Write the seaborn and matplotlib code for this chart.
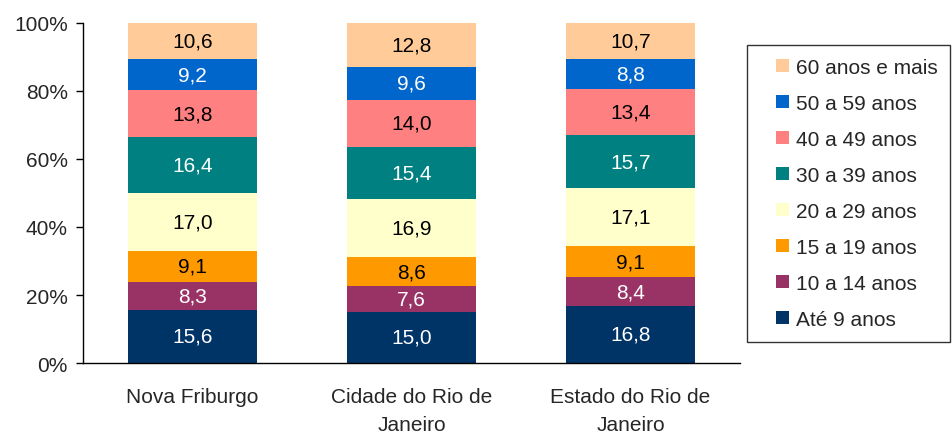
import matplotlib
matplotlib.use("Agg")
import matplotlib.pyplot as plt
import seaborn as sns
import pandas as pd
import numpy as np
from matplotlib.patches import Patch, Rectangle
from matplotlib.legend_handler import HandlerBase

categories = ["Nova Friburgo", "Cidade do Rio de\nJaneiro", "Estado do Rio de\nJaneiro"]
groups = ["Até 9 anos", "10 a 14 anos", "15 a 19 anos", "20 a 29 anos",
          "30 a 39 anos", "40 a 49 anos", "50 a 59 anos", "60 anos e mais"]
ate9 = [15.6, 15.0, 16.8]
a10_14 = [8.3, 7.6, 8.4]
a15_19 = [9.1, 8.6, 9.1]
a20_29 = [17.0, 16.9, 17.1]
a30_39 = [16.4, 15.4, 15.7]
a40_49 = [13.8, 14.0, 13.4]
a50_59 = [9.2, 9.6, 8.8]
a60 = [10.6, 12.8, 10.7]
series = [ate9, a10_14, a15_19, a20_29, a30_39, a40_49, a50_59, a60]

colors = ["#003366", "#993366", "#FF9900", "#FFFFCC", "#008080", "#FF8080", "#0066CC", "#FFCC99"]
text_colors = ["white", "white", "black", "black", "white", "black", "white", "black"]

sns.set_style("white")
plt.rcParams["font.family"] = ["Liberation Sans", "DejaVu Sans"]
FS = 15

fig = plt.figure(figsize=(9.52, 4.35), dpi=100)
ax = fig.add_axes([83/952, 1-364/435, (740-83)/952, (364-24)/435])

bottom = np.zeros(len(categories))
for g, vals, c, tc in zip(groups, series, colors, text_colors):
    df = pd.DataFrame({"cat": categories, "val": vals})
    sns.barplot(data=df, x="cat", y="val", color=c, bottom=bottom, width=0.59,
                ax=ax, saturation=1, linewidth=0, order=categories)
    for i, v in enumerate(vals):
        ax.text(i, bottom[i] + v/2, f"{v:.1f}".replace(".", ","), ha="center", va="center",
                fontsize=FS, color=tc)
    bottom = bottom + np.array(vals)

ax.set_ylim(0, 100)
ax.set_xlim(-0.5, 2.5)
ax.set_yticks(range(0, 101, 20))
ax.set_yticklabels([f"{t}%" for t in range(0, 101, 20)], fontsize=FS)
ax.tick_params(axis="x", labelsize=FS, length=0, pad=17)
for lab in ax.get_xticklabels():
    lab.set_linespacing(1.6)
ax.tick_params(axis="y", length=5, width=1, color="black", direction="out", left=True, pad=6)
ax.set_xlabel("")
ax.set_ylabel("")
for s in ["top", "right"]:
    ax.spines[s].set_visible(False)
for s in ["left", "bottom"]:
    ax.spines[s].set_color("black")
    ax.spines[s].set_linewidth(1)


class SquareHandler(HandlerBase):
    def create_artists(self, legend, orig_handle, xdescent, ydescent, width, height,
                       fontsize, trans):
        s = 0.62 * fontsize
        r = Rectangle((-xdescent + width - s, -ydescent + (height - s) / 2), s, s,
                      facecolor=orig_handle.get_facecolor(), edgecolor="none", transform=trans)
        return [r]


handles = [Patch(facecolor=c, edgecolor="none") for c in colors][::-1]
leg = fig.legend(handles, groups[::-1], loc="upper left",
                 bbox_to_anchor=(747/952, 1-46/435), fontsize=FS, frameon=True,
                 fancybox=False, edgecolor="black", handlelength=1.4, handleheight=0.7,
                 labelspacing=0.82, borderpad=0.6, handletextpad=0.34, borderaxespad=0,
                 handler_map={Patch: SquareHandler()})
leg.get_frame().set_linewidth(1)

fig.savefig("out.png", dpi=100)
